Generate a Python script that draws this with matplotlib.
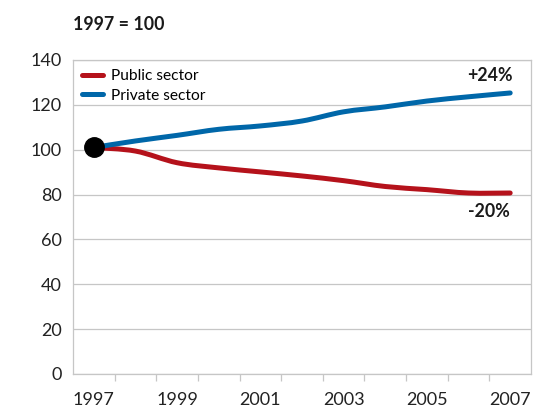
import matplotlib
matplotlib.use("Agg")
import matplotlib.pyplot as plt
from matplotlib.path import Path
from matplotlib.patches import PathPatch
from matplotlib.lines import Line2D
import numpy as np

plt.rcParams['font.family'] = ['Lato', 'DejaVu Sans']

years = [1997, 1998, 1999, 2000, 2001, 2002, 2003, 2004, 2005, 2006, 2007]
public_sector = [101, 99.4, 94.2, 91.9, 90.1, 88.3, 86.2, 83.6, 82.2, 80.7, 80.7]
private_sector = [101, 103.9, 106.4, 109.1, 110.6, 112.8, 116.9, 119.1, 121.7, 123.6, 125.3]
series_names = ["Public sector", "Private sector"]
end_labels = ["-20%", "+24%"]
year_labels = ["1997", "1999", "2001", "2003", "2005", "2007"]
y_ticks = [0, 20, 40, 60, 80, 100, 120, 140]

RED = "#b5121b"
BLUE = "#0067a9"
GRID = "#c6c6c6"
TEXT = "#1a1a1a"


def smooth_path(xs, ys):
    """Cubic Bezier path through the points (Catmull-Rom style tangents)."""
    pts = np.column_stack([xs, ys]).astype(float)
    n = len(pts)
    verts = [pts[0]]
    codes = [Path.MOVETO]
    for i in range(n - 1):
        p0 = pts[i - 1] if i > 0 else pts[i]
        p1 = pts[i]
        p2 = pts[i + 1]
        p3 = pts[i + 2] if i + 2 < n else pts[i + 1]
        c1 = p1 + (p2 - p0) / 6.0
        c2 = p2 - (p3 - p1) / 6.0
        verts += [c1, c2, p2]
        codes += [Path.CURVE4] * 3
    return Path(verts, codes)


fig = plt.figure(figsize=(5.47, 4.07), dpi=100)
ax = fig.add_axes([73 / 547, 1 - 374 / 407, (531 - 73) / 547, (374 - 60) / 407])

ax.set_xlim(1996.5, 2007.5)
ax.set_ylim(0, 140)

for ys, color in [(public_sector, RED), (private_sector, BLUE)]:
    patch = PathPatch(smooth_path(years, ys), facecolor="none", edgecolor=color,
                      lw=3.6, capstyle="round", joinstyle="round", zorder=3)
    ax.add_patch(patch)

ax.plot([years[0]], [public_sector[0]], "o", color="black", ms=14, zorder=5,
        clip_on=False)

ax.text(years[-1] + 0.06, private_sector[-1] + 4, end_labels[1], ha="right",
        va="bottom", fontsize=12.8, fontweight="bold", color=TEXT)
ax.text(years[-1] + 0.0, public_sector[-1] - 4.5, end_labels[0], ha="right",
        va="top", fontsize=12.8, fontweight="bold", color=TEXT)

ax.set_yticks(y_ticks)
ax.set_yticklabels([str(v) for v in y_ticks])
ax.set_xticks([int(y) for y in year_labels])
ax.set_xticklabels(year_labels)
ax.set_xticks(np.arange(1997.5, 2007, 1.0), minor=True)

ax.tick_params(axis="y", length=0, pad=8, labelsize=13, labelcolor="#222222")
ax.tick_params(axis="x", which="major", length=0, pad=13, labelsize=13,
               labelcolor="#222222")
ax.tick_params(axis="x", which="minor", length=5, width=0.9, color=GRID,
               direction="out")

ax.grid(axis="y", color=GRID, lw=0.9)
ax.set_axisbelow(True)
for sp in ax.spines.values():
    sp.set_color(GRID)
    sp.set_linewidth(0.9)

handles = [Line2D([0], [0], color=RED, lw=3.6, solid_capstyle="round"),
           Line2D([0], [0], color=BLUE, lw=3.6, solid_capstyle="round")]
ax.legend(handles, series_names, loc="upper left", frameon=False, fontsize=11.2,
          handlelength=1.3, handletextpad=0.55, labelspacing=0.35,
          borderaxespad=0.2, bbox_to_anchor=(0.0, 1.0))

fig.text(73 / 547, 1 - 25 / 407, "1997 = 100", ha="left", va="center",
         fontsize=12.8, fontweight="bold", color=TEXT)

fig.savefig("out.png", dpi=100)
